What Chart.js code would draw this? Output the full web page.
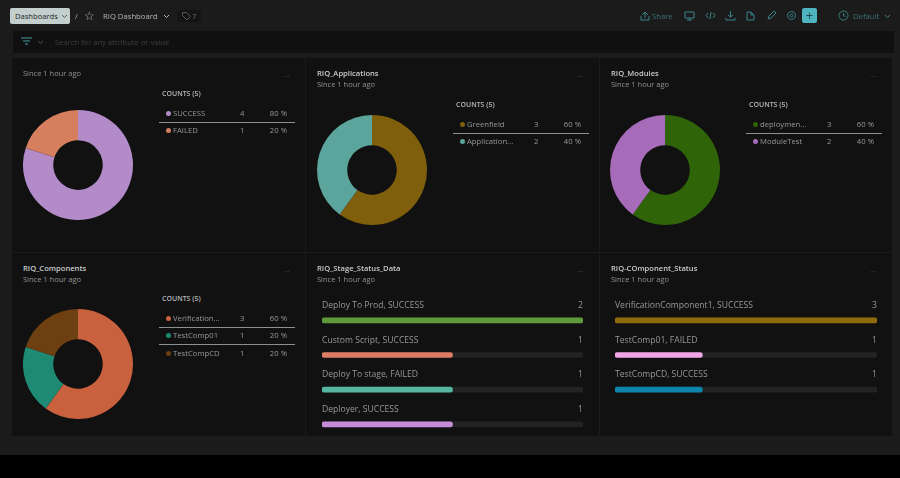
<!DOCTYPE html>
<html>
<head>
<meta charset="utf-8">
<script src="https://cdn.jsdelivr.net/npm/chart.js@4"></script>
<style>
html, body { margin: 0; padding: 0; background: #000; }
body { width: 900px; height: 478px; overflow: hidden; position: relative; font-family: "Open Sans", sans-serif; color: #a9adad; font-size: 8px; }
#page { position: absolute; left: 0; top: 0; width: 900px; height: 455px; background: #1b1b1c; }
#filter { position: absolute; left: 13px; top: 31px; width: 881px; height: 22px; background: #101011; }
#ui { position: absolute; left: 0; top: 0; width: 900px; height: 478px; filter: blur(0.3px); }
.panel { position: absolute; background: #111112; }
.abs { position: absolute; white-space: nowrap; line-height: 11px; }
.title { color: #c9cccc; font-size: 7.6px; font-weight: 600; }
.since { color: #8e9292; font-size: 7.5px; }
.head { color: #b5b8b8; font-size: 7px; font-weight: 600; }
.rule { position: absolute; height: 1px; background: #8d9090; }
.dot { position: absolute; width: 5px; height: 5px; border-radius: 50%; }
.row { font-size: 7.7px; color: #959999; }
canvas { position: absolute; }
svg { position: absolute; fill: none; stroke: #3a8488; stroke-width: 1; }
</style>
</head>
<body>
<div id="page"></div>
<div id="filter"></div>
<div id="ui"></div>
<script>
'use strict'

/* donut data */
const runLabels = ['SUCCESS', 'FAILED'];
const runCounts = [4, 1];
const runPercent = ['80 %', '20 %'];

const appLabels = ['Greenfield', 'Application...'];
const appCounts = [3, 2];
const appPercent = ['60 %', '40 %'];

const moduleLabels = ['deploymen...', 'ModuleTest'];
const moduleCounts = [3, 2];
const modulePercent = ['60 %', '40 %'];

const compLabels = ['Verification...', 'TestComp01', 'TestCompCD'];
const compCounts = [3, 1, 1];
const compPercent = ['60 %', '20 %', '20 %'];

/* bar data */
const stageLabels = ['Deploy To Prod, SUCCESS', 'Custom Script, SUCCESS', 'Deploy To stage, FAILED', 'Deployer, SUCCESS'];
const stageCounts = [2, 1, 1, 1];

const compStatusLabels = ['VerificationComponent1, SUCCESS', 'TestComp01, FAILED', 'TestCompCD, SUCCESS'];
const compStatusCounts = [3, 1, 1];

const ui = document.getElementById('ui');

function put(cls, text, x, y, css) {
  const el = document.createElement('div');
  el.className = cls;
  if (text) el.textContent = text;
  el.style.left = x + 'px';
  el.style.top = y + 'px';
  if (css) Object.assign(el.style, css);
  ui.appendChild(el);
  return el;
}

function addCanvas(x, y, w, h) {
  const box = document.createElement('div');
  box.style.cssText = `position:absolute;left:${x}px;top:${y}px;width:${w}px;height:${h}px`;
  const c = document.createElement('canvas');
  box.appendChild(c);
  ui.appendChild(box);
  return c;
}

function icon(x, y, d, color) {
  const s = color ? `stroke:${color};` : '';
  ui.insertAdjacentHTML('beforeend', `<svg style="left:${x}px;top:${y}px;${s}" width="12" height="12"><path d="${d}"/></svg>`);
}

function panel(x, y, w, h, title) {
  put('panel', '', x, y, { width: w + 'px', height: h + 'px' });
  if (title) {
    put('abs title', title, x + 11, y + 10);
    put('abs since', 'Since 1 hour ago', x + 11, y + 21);
  } else {
    put('abs since', 'Since 1 hour ago', x + 11, y + 10);
  }
  put('abs since', '...', x + w - 21, y + 11, { fontSize: '7px', color: '#4a4d4d' });
}

function donut(cx, cy, labels, values, colors) {
  new Chart(addCanvas(cx - 55, cy - 55, 110, 110), {
    type: 'doughnut',
    data: { labels: labels, datasets: [{ data: values, backgroundColor: colors, borderWidth: 0 }] },
    options: {
      responsive: true,
      maintainAspectRatio: false,
      animation: false,
      cutout: '45%',
      plugins: { legend: { display: false }, tooltip: { enabled: false } }
    }
  });
}

function legend(x, y, labels, counts, percent, colors) {
  put('abs head', 'COUNTS (5)', x + 3, y);
  labels.forEach((name, i) => {
    const top = y + 19.5 + i * 17.6;
    put('dot', '', x + 7, top + 3, { background: colors[i] });
    put('abs row', name, x + 14, top);
    put('abs row', counts[i], x + 81, top);
    put('abs row', percent[i], x + 98, top, { width: '30px', textAlign: 'right' });
    if (i < labels.length - 1) put('rule', '', x, top + 14, { width: '136px' });
  });
}

function bars(x, y, w, labels, values, colors) {
  const top = Math.max(...values);
  const bandH = 34.67;
  labels.forEach((name, i) => {
    put('abs row', name, x, y + i * bandH - 20, { fontSize: '8.6px' });
    put('abs row', values[i], x + w - 30, y + i * bandH - 20, { width: '30px', textAlign: 'right', fontSize: '8.6px' });
  });
  new Chart(addCanvas(x, y - bandH / 2, w, bandH * labels.length), {
    type: 'bar',
    data: {
      labels: labels,
      datasets: [
        { data: values, backgroundColor: colors, barThickness: 5, borderRadius: 2.5, borderSkipped: false, order: 1 },
        { data: labels.map(() => top), backgroundColor: '#222324', barThickness: 5, borderRadius: 2.5, borderSkipped: false, order: 2 }
      ]
    },
    options: {
      indexAxis: 'y',
      responsive: true,
      maintainAspectRatio: false,
      animation: false,
      layout: { padding: 0 },
      scales: {
        x: { display: false, min: 0, max: top, grace: 0 },
        y: { display: false, stacked: true }
      },
      plugins: { legend: { display: false }, tooltip: { enabled: false } }
    }
  });
}

/* top bar */
put('abs', 'Dashboards', 10, 8, { width: '55px', height: '16px', lineHeight: '16px', paddingLeft: '5px', background: '#c3cfcc', color: '#1b1c1d', borderRadius: '2px', fontSize: '7.6px' });
icon(60, 11, 'M2 4l2.5 2.5L7 4', '#555a5a');
put('abs since', '/', 75, 11, { color: '#a9adad' });
put('abs', '☆', 84, 9, { fontSize: '12px', color: '#a9adad', lineHeight: '14px' });
put('abs', 'RIQ Dashboard', 103, 11, { fontSize: '7.7px', color: '#b5b8b8' });
icon(162, 11, 'M2 4l2.5 2.5L7 4', '#b5b8b8');
put('abs', '', 177, 10, { width: '24px', height: '12px', background: '#141415', borderRadius: '3px' });
icon(181, 10, 'M1.5 2.5h4l4 4-3.5 3.5-4.500-4.500z', '#555a5a');
put('abs', '7', 192, 11, { fontSize: '7.7px', color: '#666a6a' });
put('abs', 'Share', 652, 11, { fontSize: '7.7px', color: '#3a7478' });
put('abs', '', 802, 8, { width: '15px', height: '15px', background: '#4db4c0', borderRadius: '2px' });
put('abs', '+', 802, 10, { width: '15px', textAlign: 'center', color: '#1b4a50', fontSize: '13px' });
put('abs', 'Default', 853, 11, { fontSize: '7.7px', color: '#3a7478' });
icon(883, 11, 'M2 4l2.500 2.500L7 4');
put('abs', 'Search for any attribute or value', 55, 37, { fontSize: '7.6px', color: '#3c3f3f' });
icon(20, 36, 'M1 2h11M3 5h7M5 8h3', '#3f9ea3');
icon(37, 37, 'M1 4l2.500 2.500L6 4', '#3f5558');

// toolbar icons
[[640, 'M2 5l3-3 3 3M5 2v6M1 6v4h8V6'], [684, 'M1 2h9v6H1zM5.500 8v2M3 10h5'], [705, 'M3 3L1 5.500 3 8M8 3l2 2.500L8 8M6 2L5 9'],
 [725, 'M5.500 1v6M3 5l2.500 2L8 5M1 8v2h9V8'], [745, 'M2 2h4l3 3v5H2zM6 2v3h3'], [766, 'M2 9L3 6l5-5 2 2-5 5z'],
 [786, 'M5.500 1.500a4 4 0 1 0 .01 0zM5.500 4a1.500 1.500 0 1 0 .01 0z'], [838, 'M5.500 1a4.500 4.500 0 1 0 .01 0zM5.500 3v2.500l2 1']].forEach(([x, d]) => icon(x, 10, d));

/* panels */
panel(12, 58, 293, 194, '');
panel(306, 58, 293, 194, 'RIQ_Applications');
panel(600, 58, 292, 194, 'RIQ_Modules');
panel(12, 253, 293, 183, 'RIQ_Components');
panel(306, 253, 293, 183, 'RIQ_Stage_Status_Data');
panel(600, 253, 292, 183, 'RIQ-COmponent_Status');

const runColors = ['#b28bc8', '#d67f5f'];
const appColors = ['#7f5f0c', '#5ba59d'];
const moduleColors = ['#2f6408', '#a66bb9'];
const compColors = ['#c9613e', '#1f8a74', '#6e3f10'];

donut(78, 165, runLabels, runCounts, runColors);
legend(159, 88, runLabels, runCounts, runPercent, runColors);
donut(372, 170, appLabels, appCounts, appColors);
legend(453, 99, appLabels, appCounts, appPercent, appColors);
donut(665, 170, moduleLabels, moduleCounts, moduleColors);
legend(746, 99, moduleLabels, moduleCounts, modulePercent, moduleColors);
donut(78, 364, compLabels, compCounts, compColors);
legend(159, 293, compLabels, compCounts, compPercent, compColors);

bars(322, 320, 261, stageLabels, stageCounts, ['#5f9a3a', '#dd7c62', '#55b5a0', '#c68cd8']);
bars(615, 320, 262, compStatusLabels, compStatusCounts, ['#8f6a0a', '#efa5e6', '#0b86aa']);
</script>
</body>
</html>
